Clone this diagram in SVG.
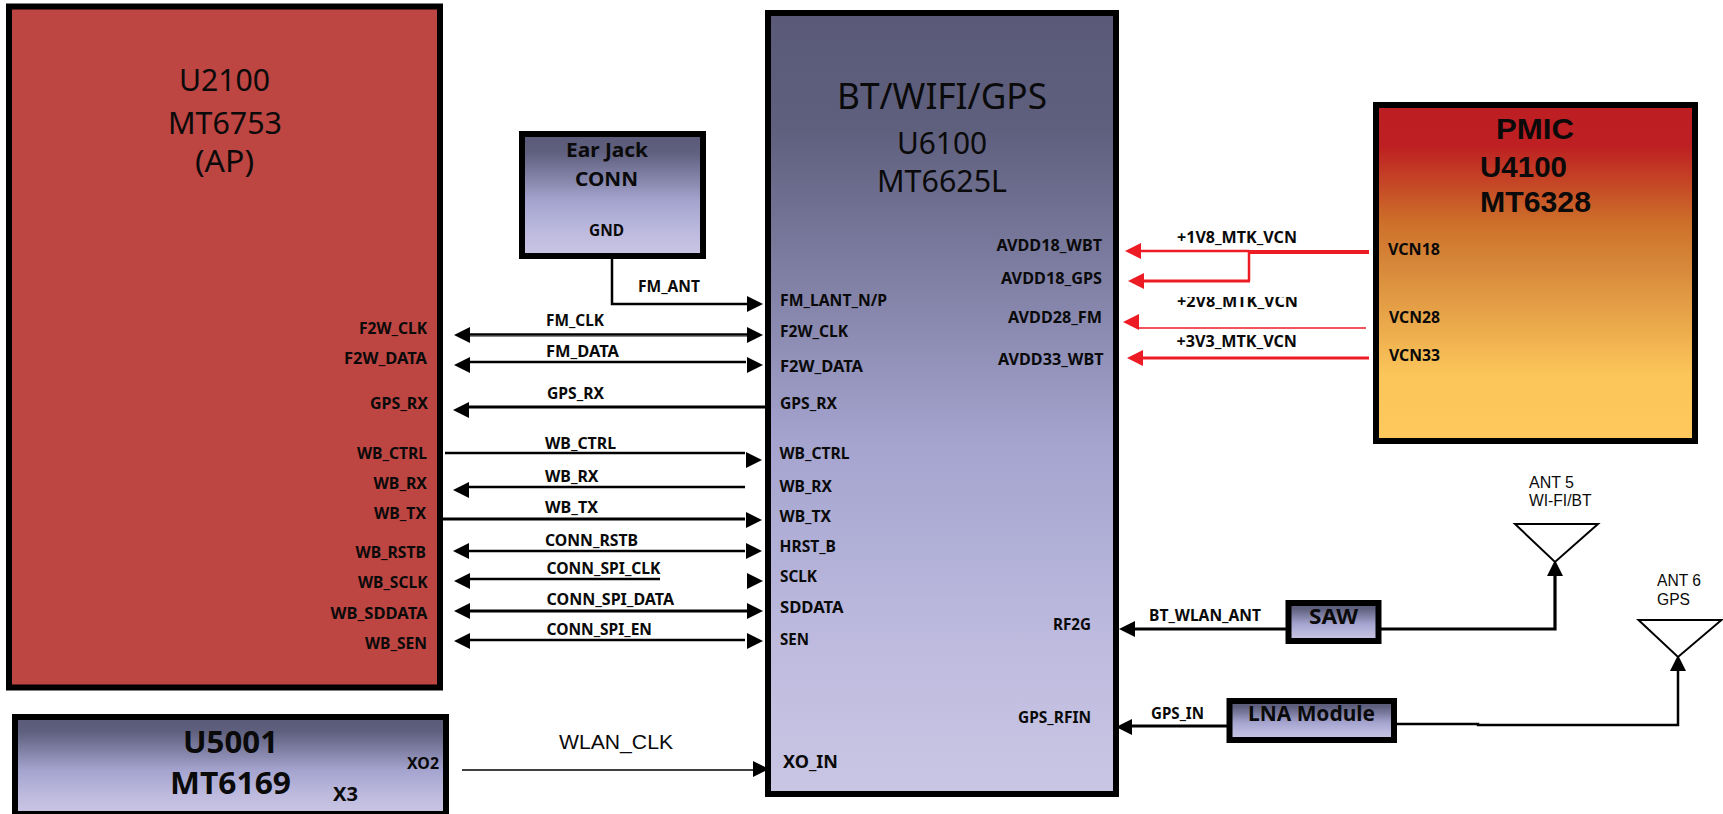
<svg xmlns="http://www.w3.org/2000/svg" width="1723" height="814" viewBox="0 0 1723 814">
<style>
text{font-family:"Noto Sans","Open Sans","Liberation Sans",sans-serif;fill:#0a0a0a}
.b{font-weight:700;font-size:16px}
.h{font-weight:700;font-size:31px}
.p{font-family:"Liberation Sans",Arial,sans-serif;font-weight:700;font-size:30px}
.m{font-weight:700;font-size:20px}
.t{font-weight:400;font-size:31px}
.a{font-family:"Liberation Sans",Arial,sans-serif;font-size:16px}
.box{stroke:#000;stroke-width:6}
.k{fill:none;stroke:#000}
.r{fill:none;stroke:#ed1c24}
.w2{stroke-width:2.500}.w3{stroke-width:3.200}.w4{stroke-width:4}.w1{stroke-width:1.500}
.ah{fill:#000}.ar{fill:#ed1c24}
.ant{fill:#fff;stroke:#000;stroke-width:2}
</style>
<defs>
<linearGradient id="pur" x1="0" y1="0" x2="0" y2="1">
<stop offset="0" stop-color="#5a5a78"/><stop offset="0.15" stop-color="#5f5f7e"/><stop offset="0.55" stop-color="#a4a4cf"/><stop offset="0.8" stop-color="#bdbade"/><stop offset="1" stop-color="#c9c6e4"/>
</linearGradient>
<linearGradient id="pm" x1="0" y1="0" x2="0" y2="1">
<stop offset="0" stop-color="#bd1e22"/><stop offset="0.12" stop-color="#bd1f22"/><stop offset="0.35" stop-color="#cd702a"/><stop offset="0.5" stop-color="#d98c3c"/><stop offset="0.8" stop-color="#fbc55a"/><stop offset="1" stop-color="#ffc95e"/>
</linearGradient>
<clipPath id="cut"><rect x="1170" y="297" width="140" height="20"/></clipPath>
<path id="l" d="M0 0L16 -8V8Z"/>
<path id="rr" d="M0 0L-16 -8V8Z"/>
<path id="u" d="M0 0L-8 16H8Z"/>
</defs>

<g id="connectors">
<path class="k w2" d="M612 259V304H750"/><use href="#rr" x="763" y="304" class="ah"/>
<path d="M468 334.500H750" stroke="#000" stroke-width="2.500" fill="none"/><path d="M468 336.500H750" stroke="#888" stroke-width="1" fill="none"/><use href="#l" x="454" y="335" class="ah"/><use href="#rr" x="763" y="335" class="ah"/>
<path class="k w2" d="M468 362H746"/><use href="#l" x="454" y="365" class="ah"/><use href="#rr" x="763" y="365" class="ah"/>
<path class="k w3" d="M468 407H766"/><use href="#l" x="453" y="410" class="ah"/>
<path class="k w2" d="M445 453H745"/><use href="#rr" x="762" y="460" class="ah"/>
<path class="k w2" d="M468 487H745"/><use href="#l" x="453" y="490" class="ah"/>
<path class="k w3" d="M443 519H745"/><use href="#rr" x="762" y="520" class="ah"/>
<path class="k w2" d="M468 551H745"/><use href="#l" x="453" y="551" class="ah"/><use href="#rr" x="762" y="551" class="ah"/>
<path class="k w2" d="M468 579H660"/><use href="#l" x="454" y="581" class="ah"/><use href="#rr" x="763" y="581" class="ah"/>
<path class="k w3" d="M468 611H750"/><use href="#l" x="454" y="611" class="ah"/><use href="#rr" x="763" y="611" class="ah"/>
<path class="k w2" d="M468 640H745"/><use href="#l" x="454" y="641" class="ah"/><use href="#rr" x="763" y="641" class="ah"/>
<path d="M462 770H756" stroke="#000" stroke-width="1.300" fill="none"/><use href="#rr" x="769" y="769" class="ah"/>
<path class="r w4" d="M1369 252H1249"/><path class="r w2" d="M1249 251H1140M1249 252V281"/><path class="r w3" d="M1250 281H1142"/><use href="#l" x="1125" y="251" class="ar"/><use href="#l" x="1128" y="281" class="ar"/>
<path class="r w1" d="M1366 328H1139"/><use href="#l" x="1123" y="322" class="ar"/>
<path class="r w3" d="M1369 358H1141"/><use href="#l" x="1127" y="358" class="ar"/>
<path class="k w3" d="M1286 629H1133"/><use href="#l" x="1119" y="629" class="ah"/>
<path class="k w3" d="M1381 629H1555V574"/><use href="#u" x="1555" y="560" class="ah"/>
<path class="k w3" d="M1227 726H1130"/><use href="#l" x="1116" y="727" class="ah"/>
<path class="k w2" d="M1396 724H1478V725H1678V669"/><use href="#u" x="1678" y="655" class="ah"/>
</g>

<g id="u2100">
<rect class="box" x="9" y="6.500" width="431" height="681" fill="#bd4542"/>
<text class="t" x="179" y="91" textLength="91" lengthAdjust="spacingAndGlyphs">U2100</text>
<text class="t" x="168" y="134" textLength="114" lengthAdjust="spacingAndGlyphs">MT6753</text>
<text class="t" x="195" y="172" textLength="59" lengthAdjust="spacingAndGlyphs">(AP)</text>
<text class="b" x="359" y="334" textLength="68" lengthAdjust="spacingAndGlyphs">F2W_CLK</text>
<text class="b" x="344" y="364" textLength="83" lengthAdjust="spacingAndGlyphs">F2W_DATA</text>
<text class="b" x="370" y="409" textLength="58" lengthAdjust="spacingAndGlyphs">GPS_RX</text>
<text class="b" x="357" y="459" textLength="70" lengthAdjust="spacingAndGlyphs">WB_CTRL</text>
<text class="b" x="373.500" y="489" textLength="53.500" lengthAdjust="spacingAndGlyphs">WB_RX</text>
<text class="b" x="374" y="519" textLength="52" lengthAdjust="spacingAndGlyphs">WB_TX</text>
<text class="b" x="355.500" y="558" textLength="70.500" lengthAdjust="spacingAndGlyphs">WB_RSTB</text>
<text class="b" x="358" y="588" textLength="69.500" lengthAdjust="spacingAndGlyphs">WB_SCLK</text>
<text class="b" x="330.500" y="619" textLength="97" lengthAdjust="spacingAndGlyphs">WB_SDDATA</text>
<text class="b" x="365" y="649" textLength="62" lengthAdjust="spacingAndGlyphs">WB_SEN</text>
</g>

<g id="u5001">
<rect class="box" x="15" y="717" width="431" height="97" fill="url(#pur)"/>
<text class="h" x="183" y="753" textLength="95" lengthAdjust="spacingAndGlyphs">U5001</text>
<text class="h" x="170" y="794" textLength="121" lengthAdjust="spacingAndGlyphs">MT6169</text>
<text class="b" x="407" y="769" textLength="32" lengthAdjust="spacingAndGlyphs">XO2</text>
<text class="m" x="333" y="801" textLength="25" lengthAdjust="spacingAndGlyphs">X3</text>
</g>

<g id="ear-jack">
<rect class="box" x="522" y="134" width="181" height="122" fill="url(#pur)"/>
<text class="m" x="566" y="157" textLength="82" lengthAdjust="spacingAndGlyphs">Ear Jack</text>
<text class="m" x="575" y="186" textLength="63" lengthAdjust="spacingAndGlyphs">CONN</text>
<text class="b" x="589" y="236" textLength="35" lengthAdjust="spacingAndGlyphs">GND</text>
</g>

<g id="u6100">
<rect class="box" x="768" y="13" width="348" height="781" fill="url(#pur)"/>
<text class="t" x="837" y="109" style="font-size:37px" textLength="210" lengthAdjust="spacingAndGlyphs">BT/WIFI/GPS</text>
<text class="t" x="897" y="154" textLength="90" lengthAdjust="spacingAndGlyphs">U6100</text>
<text class="t" x="877" y="192" textLength="130" lengthAdjust="spacingAndGlyphs">MT6625L</text>
<text class="b" x="780" y="306" textLength="107" lengthAdjust="spacingAndGlyphs">FM_LANT_N/P</text>
<text class="b" x="780" y="337" textLength="68" lengthAdjust="spacingAndGlyphs">F2W_CLK</text>
<text class="b" x="780" y="372" textLength="83" lengthAdjust="spacingAndGlyphs">F2W_DATA</text>
<text class="b" x="780" y="409" textLength="57" lengthAdjust="spacingAndGlyphs">GPS_RX</text>
<text class="b" x="779.500" y="459" textLength="70" lengthAdjust="spacingAndGlyphs">WB_CTRL</text>
<text class="b" x="779.500" y="492" textLength="52.500" lengthAdjust="spacingAndGlyphs">WB_RX</text>
<text class="b" x="779.500" y="522" textLength="51.500" lengthAdjust="spacingAndGlyphs">WB_TX</text>
<text class="b" x="779.500" y="552" textLength="56.500" lengthAdjust="spacingAndGlyphs">HRST_B</text>
<text class="b" x="780" y="582" textLength="37" lengthAdjust="spacingAndGlyphs">SCLK</text>
<text class="b" x="780" y="613" textLength="63.500" lengthAdjust="spacingAndGlyphs">SDDATA</text>
<text class="b" x="780" y="645" textLength="29" lengthAdjust="spacingAndGlyphs">SEN</text>
<text class="b" x="783" y="768" style="font-size:18px" textLength="55" lengthAdjust="spacingAndGlyphs">XO_IN</text>
<text class="b" x="996.500" y="251" textLength="105.500" lengthAdjust="spacingAndGlyphs">AVDD18_WBT</text>
<text class="b" x="1001" y="284" textLength="101" lengthAdjust="spacingAndGlyphs">AVDD18_GPS</text>
<text class="b" x="1008" y="323" textLength="94" lengthAdjust="spacingAndGlyphs">AVDD28_FM</text>
<text class="b" x="998" y="365" textLength="105.500" lengthAdjust="spacingAndGlyphs">AVDD33_WBT</text>
<text class="b" x="1053" y="630" textLength="38" lengthAdjust="spacingAndGlyphs">RF2G</text>
<text class="b" x="1018" y="723" textLength="73" lengthAdjust="spacingAndGlyphs">GPS_RFIN</text>
</g>

<g id="pmic">
<rect class="box" x="1376" y="105" width="319" height="336" fill="url(#pm)"/>
<text class="p" x="1496" y="139" textLength="78" lengthAdjust="spacingAndGlyphs">PMIC</text>
<text class="p" x="1480" y="177" textLength="87" lengthAdjust="spacingAndGlyphs">U4100</text>
<text class="p" x="1480" y="212" textLength="111" lengthAdjust="spacingAndGlyphs">MT6328</text>
<text class="b" x="1388" y="255" textLength="52" lengthAdjust="spacingAndGlyphs">VCN18</text>
<text class="b" x="1389" y="323" textLength="51" lengthAdjust="spacingAndGlyphs">VCN28</text>
<text class="b" x="1389" y="361" textLength="51" lengthAdjust="spacingAndGlyphs">VCN33</text>
</g>

<g id="saw">
<rect class="box" x="1288.500" y="603" width="90" height="38" fill="url(#pur)"/>
<text class="m" x="1309" y="624" style="font-size:22px" textLength="49" lengthAdjust="spacingAndGlyphs">SAW</text>
</g>

<g id="lna">
<rect class="box" x="1229.500" y="701" width="164.500" height="39" fill="url(#pur)"/>
<text class="m" x="1248" y="721" style="font-size:22px" textLength="127" lengthAdjust="spacingAndGlyphs">LNA Module</text>
</g>

<g id="ant5">
<path class="ant" d="M1515 524H1598L1555 562Z"/>
<text class="a" x="1529" y="488" textLength="45" lengthAdjust="spacingAndGlyphs">ANT 5</text>
<text class="a" x="1529" y="506" textLength="62.500" lengthAdjust="spacingAndGlyphs">WI-FI/BT</text>
</g>

<g id="ant6">
<path class="ant" d="M1638.500 620H1721.500L1678 657Z"/>
<text class="a" x="1657" y="586" textLength="44" lengthAdjust="spacingAndGlyphs">ANT 6</text>
<text class="a" x="1657" y="605" textLength="33" lengthAdjust="spacingAndGlyphs">GPS</text>
</g>

<g id="connector-labels">
<text class="b" x="638" y="292" textLength="62" lengthAdjust="spacingAndGlyphs">FM_ANT</text>
<text class="b" x="546" y="326" textLength="58" lengthAdjust="spacingAndGlyphs">FM_CLK</text>
<text class="b" x="546" y="357" textLength="73" lengthAdjust="spacingAndGlyphs">FM_DATA</text>
<text class="b" x="547" y="399" textLength="57" lengthAdjust="spacingAndGlyphs">GPS_RX</text>
<text class="b" x="545" y="449" textLength="71" lengthAdjust="spacingAndGlyphs">WB_CTRL</text>
<text class="b" x="545" y="482" textLength="53.500" lengthAdjust="spacingAndGlyphs">WB_RX</text>
<text class="b" x="545" y="513" textLength="53" lengthAdjust="spacingAndGlyphs">WB_TX</text>
<text class="b" x="545" y="546" textLength="93" lengthAdjust="spacingAndGlyphs">CONN_RSTB</text>
<text class="b" x="546.500" y="574" textLength="114" lengthAdjust="spacingAndGlyphs">CONN_SPI_CLK</text>
<text class="b" x="546.500" y="605" textLength="127.500" lengthAdjust="spacingAndGlyphs">CONN_SPI_DATA</text>
<text class="b" x="546.500" y="635" textLength="105.500" lengthAdjust="spacingAndGlyphs">CONN_SPI_EN</text>
<text class="a" x="559" y="749" style="font-size:21px" textLength="114" lengthAdjust="spacingAndGlyphs">WLAN_CLK</text>
<text class="b" x="1177" y="243" textLength="120" lengthAdjust="spacingAndGlyphs">+1V8_MTK_VCN</text>
<text class="b" x="1177" y="307" textLength="121" lengthAdjust="spacingAndGlyphs" clip-path="url(#cut)">+2V8_MTK_VCN</text>
<text class="b" x="1176.500" y="347" textLength="120.500" lengthAdjust="spacingAndGlyphs">+3V3_MTK_VCN</text>
<text class="b" x="1149" y="621" textLength="112" lengthAdjust="spacingAndGlyphs">BT_WLAN_ANT</text>
<text class="b" x="1151" y="719" textLength="53" lengthAdjust="spacingAndGlyphs">GPS_IN</text>
</g>
</svg>
